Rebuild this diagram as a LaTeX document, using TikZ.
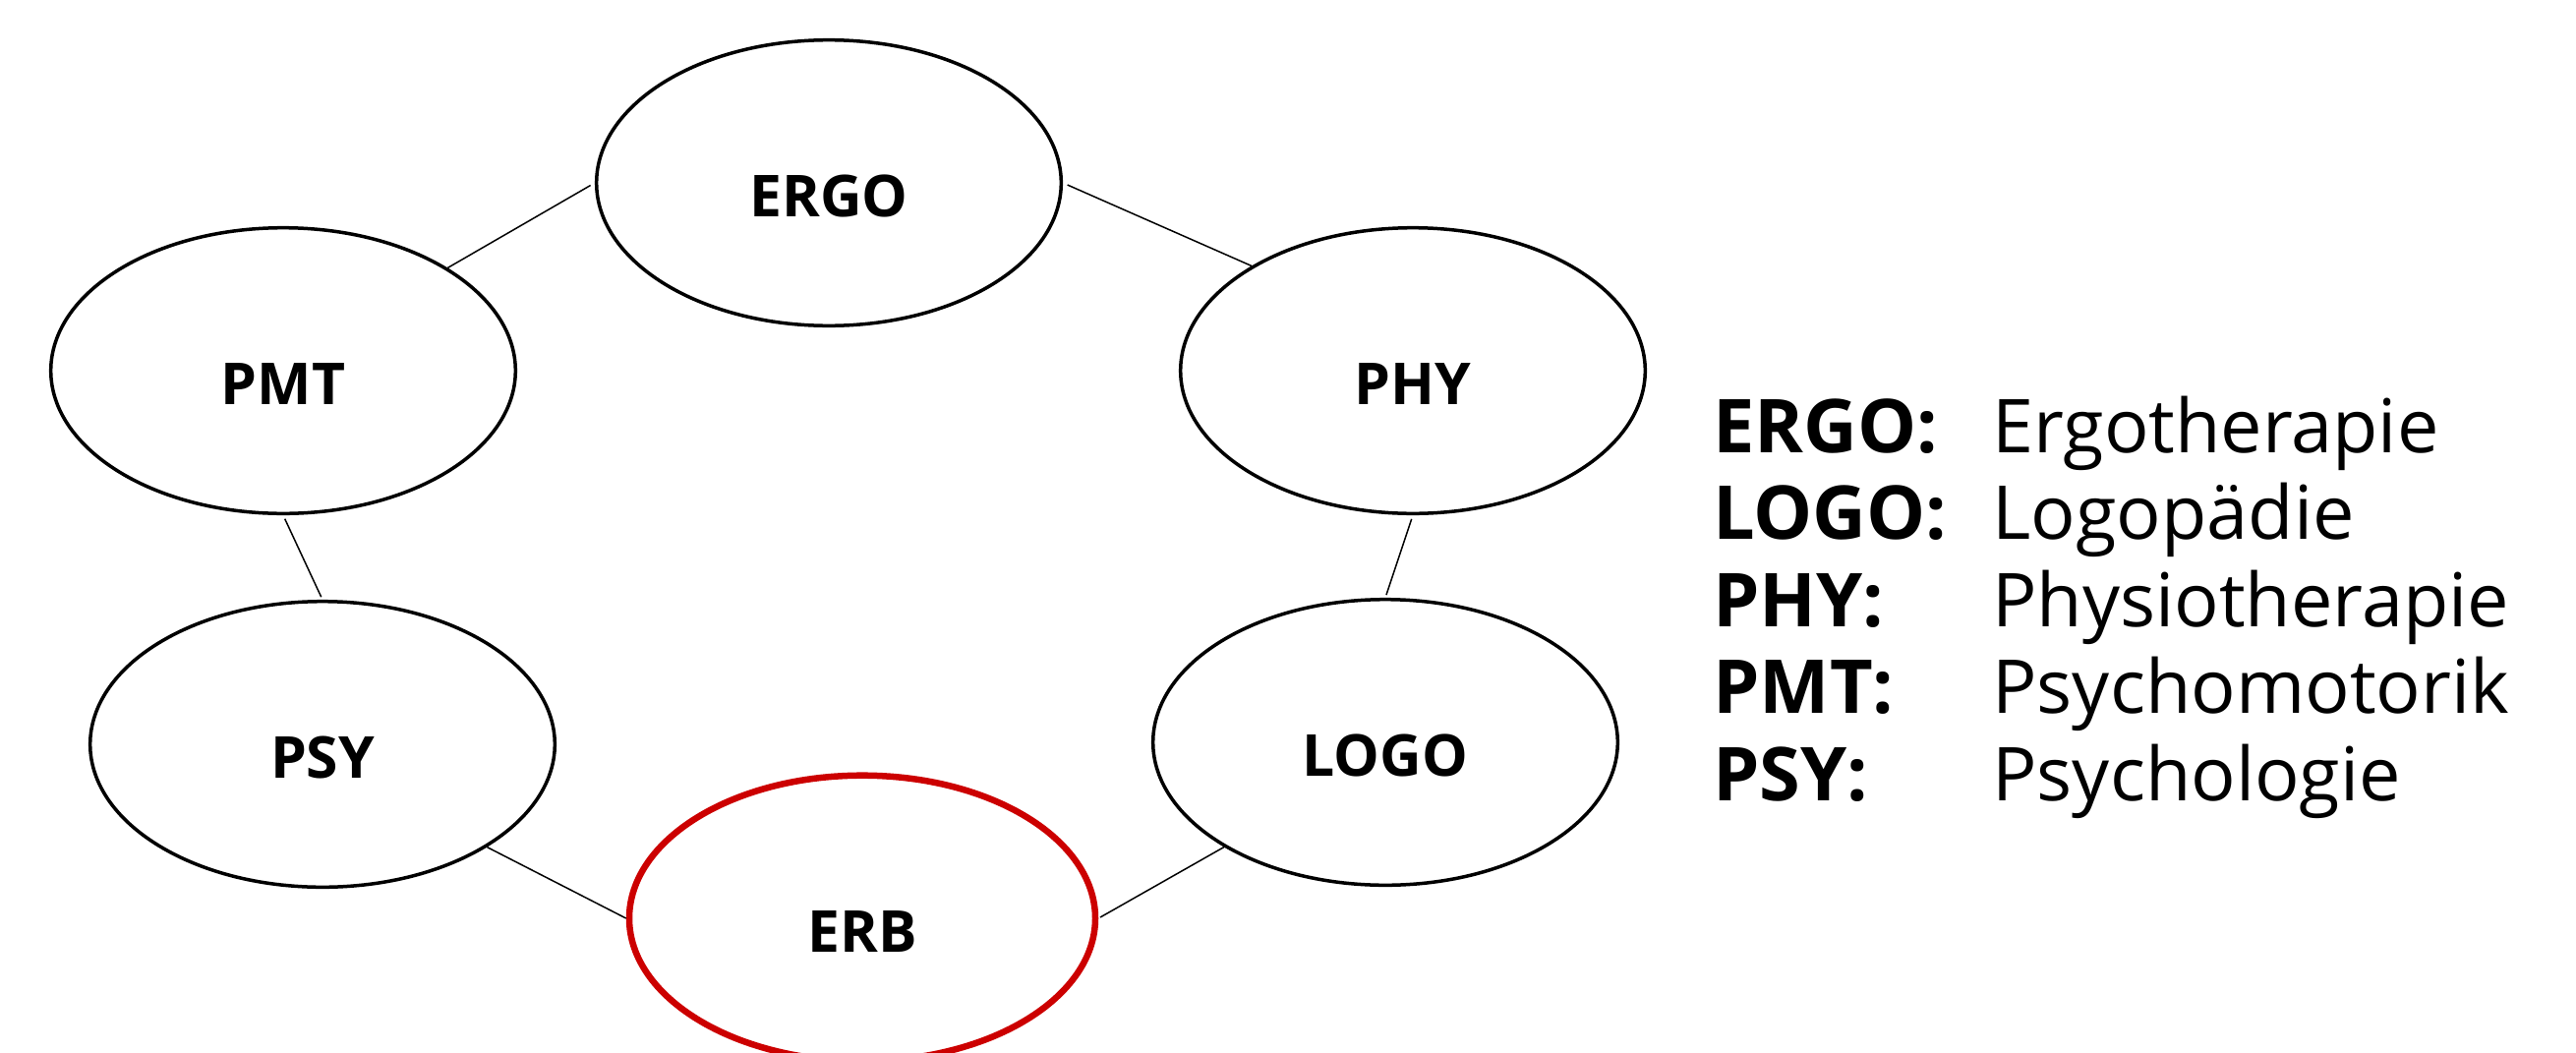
\documentclass[tikz,border=0pt]{standalone}
\usepackage{fontspec}
\setmainfont{Open Sans}
\usetikzlibrary{shapes.geometric}
\definecolor{erbred}{RGB}{204,0,0}
\begin{document}
\begin{tikzpicture}[x=0.5pt,y=-0.5pt,
  bubble/.style={ellipse,draw,line width=1.75pt,minimum width=236.3pt,minimum height=145.3pt,inner sep=0pt,
    font=\fontsize{29.4}{30}\selectfont\bfseries,text height=34pt,text depth=0pt},
  link/.style={line width=0.75pt},
  key/.style={anchor=base west,inner sep=0pt,font=\fontsize{37.8}{40}\selectfont\bfseries},
  desc/.style={anchor=base west,inner sep=0pt,font=\fontsize{37.8}{40}\selectfont}]
\useasboundingbox (0,0) rectangle (2620,1071);
\node[bubble] (ergo) at (843,186) {ERGO};
\node[bubble] (pmt) at (288,377) {PMT};
\node[bubble] (phy) at (1437,377) {PHY};
\node[bubble] (psy) at (328,757) {PSY};
\node[bubble] (logo) at (1409,755) {LOGO};
\node[bubble,draw=erbred,line width=3.25pt,minimum width=237pt] (erb) at (877,934) {ERB};
\draw[link,shorten >=2.5pt] (pmt.32.6) -- (ergo.west);
\draw[link,shorten <=2.5pt] (ergo.east) -- (phy.147.1);
\draw[link,shorten <=2pt,shorten >=1.5pt] (pmt.south) -- (psy.north);
\draw[link,shorten <=2pt,shorten >=1.5pt] (phy.south) -- (logo.north);
\draw[link] (psy.-32.7) -- (erb.west);
\draw[link,shorten >=1pt] (logo.-147) -- (erb.east);
\node[key] (k1) at (1742,460) {ERGO:};
\node[desc] (d1) at (2026,460) {Ergotherapie};
\node[key] (k2) at (1742,548.5) {LOGO:};
\node[desc] (d2) at (2026,548.5) {Logopädie};
\node[key] (k3) at (1742,637) {PHY:};
\node[desc] (d3) at (2026,637) {Physiotherapie};
\node[key] (k4) at (1742,725.5) {PMT:};
\node[desc] (d4) at (2026,725.5) {Psychomotorik};
\node[key] (k5) at (1742,814) {PSY:};
\node[desc] (d5) at (2026,814) {Psychologie};
\end{tikzpicture}
\end{document}
